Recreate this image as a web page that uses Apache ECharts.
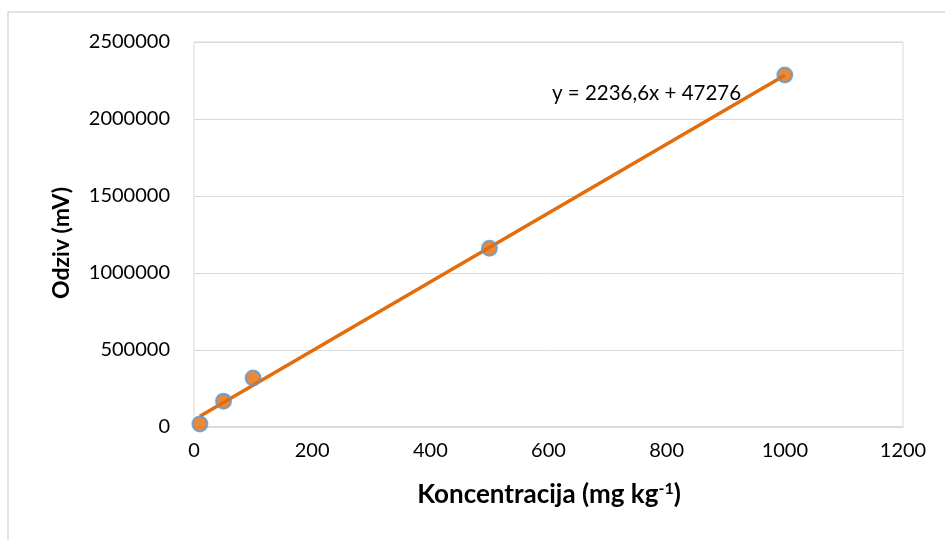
<!DOCTYPE html>
<html>
<head>
<meta charset="utf-8">
<script src="https://cdn.jsdelivr.net/npm/echarts@6/dist/echarts.min.js"></script>
<style>html,body{margin:0;padding:0;background:#fff}#c{width:945px;height:540px}</style>
</head>
<body>
<div id="c"></div>
<script>
const concentrations = [10, 50, 100, 500, 1000];
const responses = [20000, 168000, 318000, 1160000, 2286000];
const trendSlope = 2236.6;
const trendIntercept = 47276;
const trendRange = [10, 1000];
const equationText = 'y = 2236,6x + 47276';
const xAxisTitle = 'Koncentracija (mg kg';
const yAxisTitle = 'Odziv (mV)';

const font = 'Lato, "Liberation Sans", sans-serif';
const chart = echarts.init(document.getElementById('c'));
const trendData = trendRange.map(x => [x, trendSlope * x + trendIntercept]);
chart.setOption({
  animation: false,
  graphic: [
    {type: 'rect', shape: {x: 8, y: 12, width: 1000, height: 1000}, style: {fill: 'none', stroke: '#d9d9d9', lineWidth: 1.5}, silent: true, z: -1},
    {type: 'text', x: 552, y: 93, style: {text: equationText, font: '20.5px ' + font, fill: '#000', verticalAlign: 'middle'}},
    {type: 'text', x: 62, y: 243, rotation: Math.PI / 2, style: {text: yAxisTitle, font: 'bold 23px ' + font, fill: '#000', align: 'center', verticalAlign: 'middle'}},
    {type: 'text', x: 549, y: 495, style: {text: '{t|' + xAxisTitle + '}{s|-1}{t|)}', align: 'center', verticalAlign: 'middle', rich: {t: {font: 'bold 26px ' + font, fill: '#000'}, s: {font: 'bold 16px ' + font, fill: '#000', padding: [0, 0, 13, 0]}}}}
  ],
  grid: {left: 194, right: 42, top: 42, bottom: 113, show: true, borderColor: '#d9d9d9', borderWidth: 1},
  xAxis: {
    type: 'value', min: 0, max: 1200, interval: 200,
    axisLine: {show: true, lineStyle: {color: '#d9d9d9', width: 1.5}},
    axisTick: {show: false},
    splitLine: {show: false},
    axisLabel: {color: '#000', fontSize: 20, fontFamily: font, margin: 14, formatter: v => String(v)}
  },
  yAxis: {
    type: 'value', min: 0, max: 2500000, interval: 500000,
    axisLine: {show: false},
    axisTick: {show: false},
    splitLine: {show: true, lineStyle: {color: '#d9d9d9', width: 1}},
    axisLabel: {color: '#000', fontSize: 20, fontFamily: font, margin: 24, formatter: v => String(v)}
  },
  series: [
    {type: 'line', data: trendData, symbol: 'none', lineStyle: {color: '#E46C0A', width: 3.5}, z: 3},
    {type: 'scatter', data: concentrations.map((x, i) => [x, responses[i]]), symbolSize: 15,
      itemStyle: {color: '#E46C0A', borderColor: '#5B9BD5', borderWidth: 2}, z: 4}
  ]
});
</script>
</body>
</html>
